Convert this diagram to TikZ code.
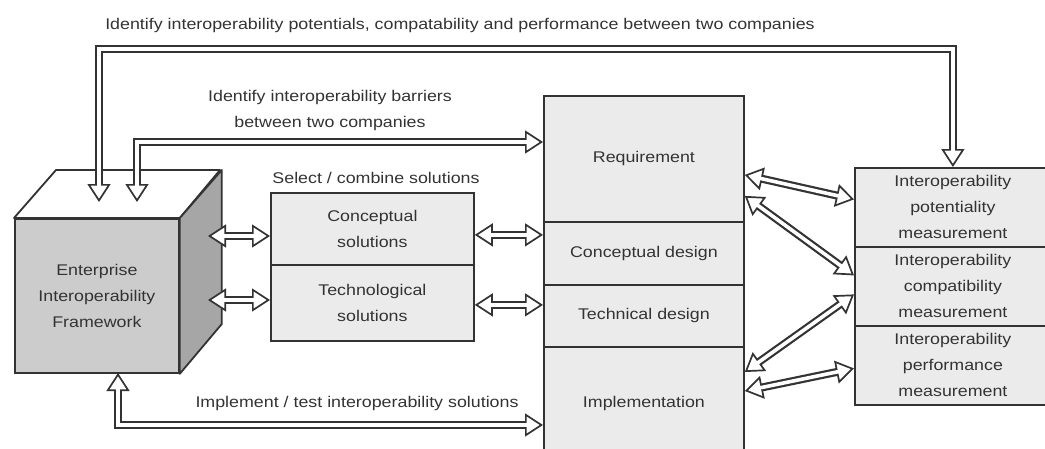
\documentclass[tikz,border=0pt]{standalone}
\usepackage{fontspec}
\setmainfont{Liberation Sans}[FakeStretch=1.15]
\usetikzlibrary{arrows.meta}

\begin{document}
\begin{tikzpicture}[x=1pt,y=-1pt]
        \tikzstyle{every node}=[font=\fontsize{15.5}{26}\selectfont, text=black!80]
        \useasboundingbox (0,0) rectangle (1045,448);

        \edef\boxline{1.8pt}
        \tikzstyle{box}=[draw=black!80, line width=\boxline, fill=gray!16, inner sep=0pt, anchor=north west, align=center]
        \tikzstyle{face}=[draw=black!80, line width=\boxline, line join=round]
        \tikzstyle{hollow}=[draw=black!80, line width=1.7pt, line join=miter,
            {Triangle[length=18pt,width=23pt,fill=white]}-{Triangle[length=18pt,width=23pt,fill=white]},
            preaction={draw=black!80, line width=8pt, -, shorten <=12pt, shorten >=12pt},
            postaction={draw=white, line width=3.6pt, -, shorten <=15pt, shorten >=15pt}]

        % framework cube
        \node[box, fill=gray!40, minimum width=164pt, minimum height=154pt] (eif) at (14,218) {Enterprise\\Interoperability\\Framework};
        \draw[face, fill=white] (eif.north west) -- ++(42,-48) -- ++(164,0) -- (eif.north east) -- cycle;
        \draw[face, fill=gray!70] (eif.north east) -- ++(42,-48) -- ++(0,154) -- (eif.south east) -- cycle;

        % solutions
        \node[box, minimum width=203pt, minimum height=72pt] (cs) at (270,192) {Conceptual\\solutions};
        \node[box, minimum width=203pt, minimum height=76pt] (ts) at (270,264) {Technological\\solutions};

        % development column
        \foreach \n/\t/\y/\h in {req/Requirement/95/126, cd/Conceptual design/221/63, td/Technical design/284/62, impl/Implementation/346/114} {
            \node[box, minimum width=200pt, minimum height=\h pt] (\n) at (543,\y) {\t};
        };

        % measurements
        \foreach \n/\t/\y in {pot/potentiality/167, com/compatibility/246, perf/performance/325} {
            \node[box, minimum width=196pt, minimum height=79pt] (\n) at (854,\y) {Interoperability\\\t\\measurement};
        };

        \node (lbltop) at (460,25) {Identify interoperability potentials, compatability and performance between two companies};
        \node[align=center] (lblbar) at (330,110) {Identify interoperability barriers\\between two companies};
        \node (lblsel) at (376,178) {Select / combine solutions};
        \node (lblimp) at (357,403) {Implement / test interoperability solutions};

        \coordinate (in1) at (99,202);
        \coordinate (in2) at (137,202);
        \coordinate (in3) at (118,373);
        \coordinate (s1) at (208,236);
        \coordinate (s2) at (208,300);

        \draw[hollow] (in1) -- ++(0,-153) -| (pot.north);                       % eif<->pot
        \draw[hollow] (in2) |- ([yshift=-47pt]req.north west);                  % eif<->req
        \draw[hollow] (in3) |- ([yshift=-79pt]impl.north west);                 % eif<->impl
        \draw[hollow] (s1) -- (s1 -| cs.west);                                  % eif<->cs
        \draw[hollow] (s2) -- (s2 -| ts.west);                                  % eif<->ts
        \draw[hollow] ([yshift=-6pt]cs.east) -- ([yshift=-6pt]cs.east -| cd.west); % cs<->cd
        \draw[hollow] ([yshift=-2pt]ts.east) -- ([yshift=-2pt]ts.east -| td.west); % ts<->td
        \draw[hollow] ([yshift=-16pt]req.east) -- ([yshift=8pt]pot.west);       % req<->pot
        \draw[hollow] ([yshift=-37pt]req.east) -- ([yshift=11pt]com.west);      % req<->com
        \draw[hollow] ([yshift=-26pt]impl.north east) -- ([yshift=-8pt]com.west); % impl<->com
        \draw[hollow] ([yshift=-45pt]impl.north east) -- ([yshift=-3pt]perf.west); % impl<->perf
\end{tikzpicture}
\end{document}
